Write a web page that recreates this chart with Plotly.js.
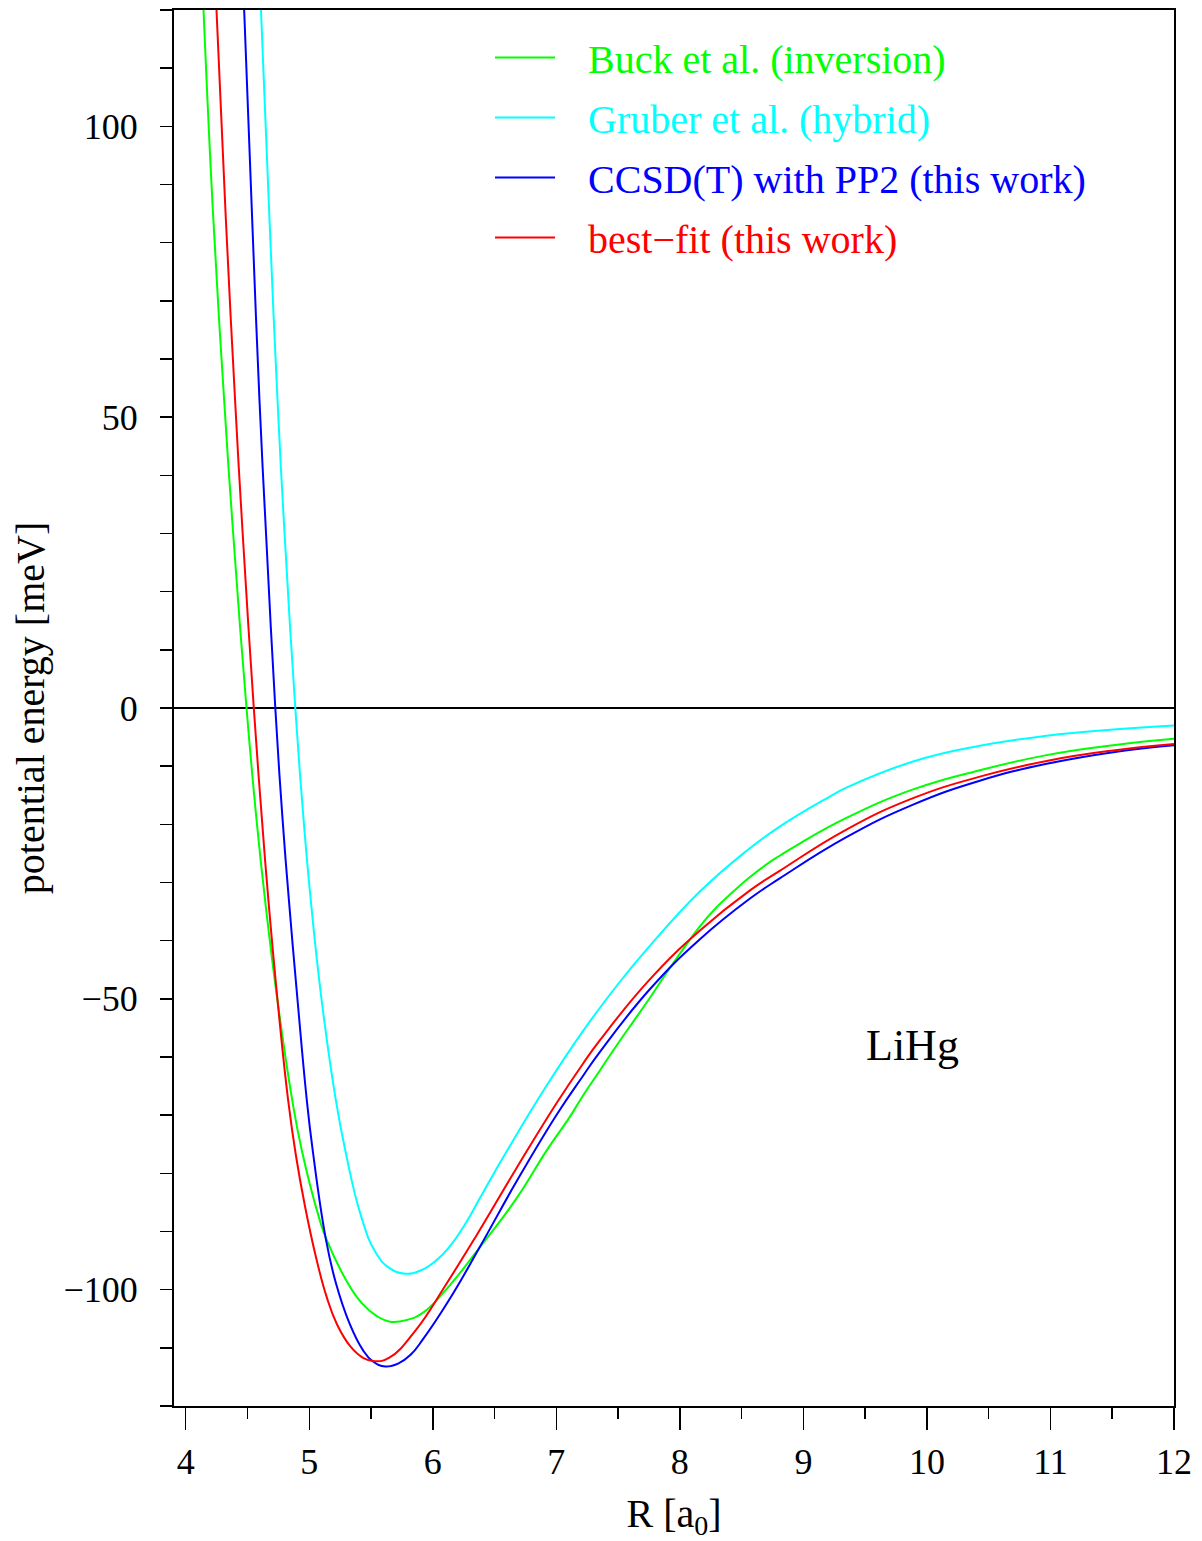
<!DOCTYPE html>
<html>
<head>
<meta charset="utf-8">
<script src="https://cdn.plot.ly/plotly-3.0.1.min.js"></script>
<style>html,body{margin:0;padding:0;background:#fff;}#chart{width:1202px;height:1541px;}</style>
</head>
<body>
<div id="chart"></div>
<script>
// Buck et al. (inversion) - green
const buckR = [4.144, 4.221, 4.311, 4.384, 4.492, 4.573, 4.642, 4.742, 4.862, 4.938, 5.076, 5.140, 5.313, 5.425, 5.544, 5.654, 5.79, 5.918, 6.107, 6.377, 6.675, 6.93, 7.1, 7.214, 7.35, 7.485, 7.62, 7.755, 7.89, 8.025, 8.16, 8.295, 8.43, 8.565, 8.70, 8.808, 8.97, 9.348, 9.888, 10.428, 10.969, 11.508, 12.0];
const buckE = [120, 85, 52.9, 30, 0, -19.2, -33, -50.2, -67.4, -75.9, -87.4, -91.4, -98.9, -102.3, -104.5, -105.5, -105.2, -104.0, -100.0, -92.8, -84.4, -75.8, -70.6, -66.7, -62.4, -58.1, -54.0, -49.9, -45.6, -41.5, -37.6, -34.3, -31.6, -29.1, -26.9, -25.4, -23.3, -18.9, -14.0, -10.7, -8.1, -6.4, -5.3];

// Gruber et al. (hybrid) - cyan
const gruberR = [4.609, 4.676, 4.743, 4.80, 4.887, 4.954, 5.012, 5.10, 5.215, 5.29, 5.42, 5.54, 5.65, 5.778, 5.9, 6.026, 6.134, 6.27, 6.377, 6.5, 6.607, 6.9, 7.214, 7.5, 7.755, 8.16, 8.538, 8.808, 9.186, 9.348, 9.888, 10.428, 10.969, 11.508, 12.0];
const gruberE = [120, 85, 52.9, 30, 0, -19.2, -33, -50.2, -67.4, -75.9, -87.4, -93.7, -96.3, -97.25, -96.71, -95.01, -92.64, -88.44, -84.4, -79.8, -75.9, -65.64, -55.6, -47.45, -40.95, -31.6, -24.6, -20.4, -15.56, -13.7, -9.2, -6.5, -4.77, -3.69, -3.0];

// CCSD(T) with PP2 (this work) - blue
const ccsdR = [4.473, 4.536, 4.597, 4.650, 4.725, 4.784, 4.835, 4.905, 4.980, 5.027, 5.135, 5.216, 5.324, 5.432, 5.513, 5.616, 5.729, 5.82, 5.918, 6.134, 6.377, 6.675, 7.0, 7.214, 7.35, 7.755, 8.16, 8.565, 8.808, 9.348, 9.888, 10.428, 10.969, 11.508, 12.0];
const ccsdE = [120, 85, 52.9, 30, 0, -19.2, -33, -50.2, -67.4, -75.9, -91.4, -98.9, -105.7, -110.3, -112.3, -113.2, -112.6, -111.2, -108.6, -101.7, -92.8, -81.5, -70.0, -63.3, -59.2, -48.4, -39.8, -32.8, -29.3, -22.2, -16.6, -12.5, -9.6, -7.6, -6.4];

// best-fit (this work) - red
const bestR = [4.249, 4.3225, 4.3995, 4.461, 4.551, 4.617, 4.669, 4.743, 4.829, 4.891, 4.963, 5.053, 5.14, 5.223, 5.331, 5.439, 5.53, 5.648, 5.864, 6.107, 6.35, 6.675, 7.0, 7.214, 7.35, 7.755, 8.16, 8.565, 8.808, 9.348, 9.888, 10.428, 10.969, 11.508, 12.0];
const bestE = [120, 85, 52.9, 30, 0, -19.2, -33, -50.2, -67.4, -76.8, -85.4, -94.3, -101.2, -105.9, -109.7, -111.75, -112.3, -111.7, -106.9, -99.1, -90.8, -79.2, -68.0, -61.2, -57.2, -46.7, -38.3, -31.4, -28.0, -20.9, -15.5, -11.8, -9.1, -7.3, -6.2];

const seriesNames = ["Buck et al. (inversion)", "Gruber et al. (hybrid)", "CCSD(T) with PP2 (this work)", "best\u2212fit (this work)"];
const seriesColors = ["#00ff00", "#00ffff", "#0000ff", "#ff0000"];
const xTickVals = [4, 5, 6, 7, 8, 9, 10, 11, 12];
const yTickVals = [-100, -50, 0, 50, 100];
const moleculeLabel = "LiHg";

const xs = [buckR, gruberR, ccsdR, bestR];
const ys = [buckE, gruberE, ccsdE, bestE];
const FONT = "'Liberation Serif', 'Times New Roman', serif";

const traces = xs.map((x, i) => ({
  x: x, y: ys[i], type: 'scatter', mode: 'lines',
  name: '\u2002\u2009<span style="color:' + seriesColors[i] + '">' + seriesNames[i] + '</span>',
  legendgroup: 'g' + i,
  line: {color: seriesColors[i], width: 2, shape: 'spline', smoothing: 1.3},
  hoverinfo: 'skip'
}));

const layout = {
  width: 1202, height: 1541,
  margin: {l: 174, r: 28, t: 10, b: 135},
  paper_bgcolor: '#fff', plot_bgcolor: '#fff',
  font: {family: FONT, color: '#000', size: 36},
  showlegend: true,
  legend: {
    x: 0.316, y: 0.9893, xanchor: 'left', yanchor: 'top',
    bgcolor: 'rgba(0,0,0,0)', borderwidth: 0,
    font: {family: FONT, size: 40},
    itemwidth: 60, tracegroupgap: 5, traceorder: 'grouped'
  },
  xaxis: {
    range: [3.905, 12], tickvals: xTickVals, ticks: 'outside', ticklen: 22, tickwidth: 1.5, tickcolor: '#000',
    minor: {dtick: 0.5, tick0: 4, ticks: 'outside', ticklen: 11, tickwidth: 1.5, tickcolor: '#000'},
    showline: true, linewidth: 2, linecolor: '#000', mirror: true,
    showgrid: false, zeroline: false,
    tickfont: {family: FONT, size: 36}, ticklabelstandoff: 1,
    title: {text: 'R [a<sub>0</sub>]', font: {family: FONT, size: 40}, standoff: 25}
  },
  yaxis: {
    range: [-120, 120], tickvals: yTickVals, ticks: 'outside', ticklen: 12, tickwidth: 1.5, tickcolor: '#000',
    minor: {dtick: 10, tick0: 0, ticks: 'outside', ticklen: 12, tickwidth: 1.5, tickcolor: '#000'},
    showline: true, linewidth: 2, linecolor: '#000', mirror: true,
    showgrid: false, zeroline: true, zerolinecolor: '#000', zerolinewidth: 1.5,
    tickfont: {family: FONT, size: 36}, ticklabelstandoff: 15,
    title: {text: 'potential energy [meV]', font: {family: FONT, size: 40}, standoff: 6}
  },
  annotations: [{
    x: 9.88, y: -58, xref: 'x', yref: 'y', text: moleculeLabel, showarrow: false,
    font: {family: FONT, size: 44, color: '#000'}
  }]
};

Plotly.newPlot('chart', traces, layout, {displayModeBar: false, staticPlot: true});
</script>
</body>
</html>
